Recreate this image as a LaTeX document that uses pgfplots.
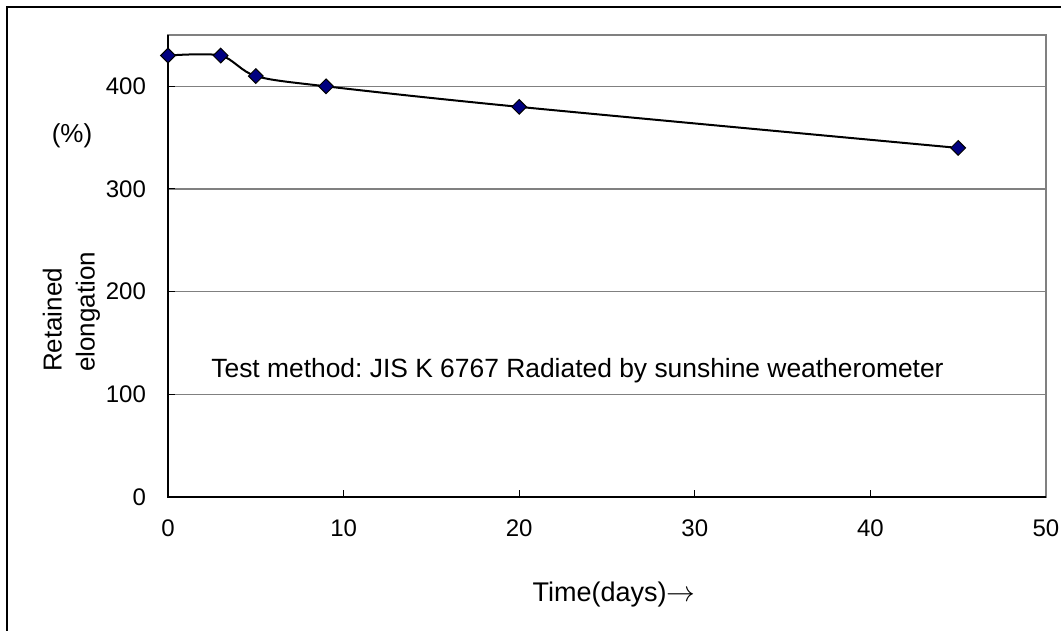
\documentclass[border=0pt]{standalone}
\usepackage{pgfplots}
\pgfplotsset{compat=1.18}
\usepackage{fontspec}
\setmainfont{Liberation Sans}
\definecolor{navyfill}{HTML}{000080}
\definecolor{gridgray}{HTML}{808080}
\frenchspacing
\begin{document}
\begin{tikzpicture}
\path[use as bounding box] (0,0) rectangle (530.5pt,315.5pt);
\begin{scope}
\clip (0,0) rectangle (530.5pt,315.5pt);
\draw[black, line width=1pt] (3.5pt,-5pt) -- (3.5pt,312pt) -- (540pt,312pt);
\end{scope}
\begin{axis}[
  at={(84pt,67pt)}, anchor=south west,
  scale only axis, width=439pt, height=231pt,
  xmin=0, xmax=50, ymin=0, ymax=450,
  xtick={0,10,...,50}, ytick={0,100,...,400},
  xtick pos=bottom, ytick pos=left,
  tick align=inside, major tick length=3.5pt,
  tick style={black, line width=0.5pt},
  ymajorgrids, grid style={gridgray, line width=0.6pt},
  axis line style={gridgray, line width=1pt},
  /pgf/number format/assume math mode=true,
  tick label style={font=\fontsize{12}{14}\selectfont},
  yticklabel style={xshift=-7.5pt},
  xticklabel style={yshift=-8pt},
  clip=false,
]
\draw[black, line width=0.75pt] (rel axis cs:0,1) -- (rel axis cs:0,0) -- (rel axis cs:1,0);
\addplot[black, line width=1pt, smooth, tension=0.5,
  mark=square*, mark size=2.6pt,
  mark options={rotate=45, fill=navyfill, draw=black, line width=0.5pt, solid}]
  coordinates {(0,430) (3,430) (5,410) (9,400) (20,380) (45,340)};
\end{axis}
\node[rotate=90, align=left, font=\fontsize{13}{16.5}\selectfont] at (35.75pt,159.5pt) {Retained\\elongation};
\node[font=\fontsize{13}{16}\selectfont] at (36pt,247.5pt) {(\%)};
\node[anchor=base, font=\fontsize{13.2}{16}\selectfont, inner sep=0pt] at (288.75pt,126.5pt) {Test method: JIS K 6767 Radiated by sunshine weatherometer};
\node[anchor=base, font=\fontsize{13.5}{16}\selectfont, inner sep=0pt] at (307pt,14.5pt) {Time(days)$\rightarrow$};
\end{tikzpicture}
\end{document}
